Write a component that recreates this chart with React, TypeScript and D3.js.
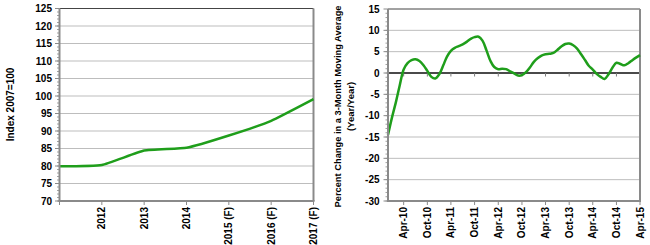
import React from "react";
import * as d3 from "d3";

// Left chart data
const years = ["2011", "2012", "2013", "2014", "2015", "2016", "2017"];
const yearLabels = ["", "2012", "2013", "2014", "2015 (F)", "2016 (F)", "2017 (F)"];
const indexValues = [79.9, 80.3, 84.4, 85.2, 88.7, 92.9, 99.1];
const leftTicks = [70, 75, 80, 85, 90, 95, 100, 105, 110, 115, 120, 125];

// Right chart data: monthly, Dec-2009 .. Apr-2015
const startMonth = new Date(2009, 11, 1);
const pctChange = [
  -14.5, -10.4, -6.7, -3.0, 0.8, 2.3, 3.0, 3.2, 2.8, 1.8, 0.5, -0.9, -1.3,
  -0.3, 1.8, 3.8, 5.2, 5.9, 6.3, 6.7, 7.3, 8.0, 8.4, 8.5, 7.6,
  5.3, 2.8, 1.4, 0.9, 1.0, 0.9, 0.4, -0.1, -0.6, -0.5, 0.2, 1.3,
  2.6, 3.5, 4.1, 4.4, 4.5, 4.7, 5.4, 6.2, 6.8, 6.9, 6.5, 5.7,
  4.4, 3.0, 1.7, 0.8, -0.2, -0.9, -1.4, -0.3, 1.3, 2.4, 2.1, 1.8,
  2.3, 3.0, 3.6, 4.2,
];
const rightTicks = [-30, -25, -20, -15, -10, -5, 0, 5, 10, 15];
const monthTicks = [
  "2010-04", "2010-10", "2011-04", "2011-10", "2012-04", "2012-10",
  "2013-04", "2013-10", "2014-04", "2014-10", "2015-04",
];

const FONT = "'Liberation Sans', Arial, sans-serif";
const GREEN = "#1f9e1b";
const GRID = "#bdbdbd";
const AXIS = "#8a8a8a";

function LeftChart() {
  const x = d3.scalePoint<string>().domain(years).range([59.5, 313.5]);
  const y = d3.scaleLinear().domain([70, 125]).range([201, 8.5]);
  const line = d3
    .line<number>()
    .x((_, i) => x(years[i]) as number)
    .y((d) => y(d))
    .curve(d3.curveCardinal.tension(0.6));
  const minor = d3.range(70, 125, 1);
  return (
    <g>
      {leftTicks.map((t) => (
        <line key={t} x1={59.5} x2={313.5} y1={y(t)} y2={y(t)} stroke={t === 125 ? "#444" : GRID} strokeWidth={1} />
      ))}
      <line x1={313.5} x2={313.5} y1={y(125)} y2={y(70)} stroke={AXIS} strokeWidth={2} />
      <path d={line(indexValues) || ""} fill="none" stroke={GREEN} strokeWidth={2.5} />
      {minor.map((t) => (
        <line key={"m" + t} x1={57} x2={59.5} y1={y(t)} y2={y(t)} stroke={AXIS} strokeWidth={0.8} />
      ))}
      {leftTicks.map((t) => (
        <line key={"t" + t} x1={55} x2={59.5} y1={y(t)} y2={y(t)} stroke={AXIS} strokeWidth={1} />
      ))}
      <line x1={59.5} x2={59.5} y1={y(125)} y2={y(70) + 1} stroke={AXIS} strokeWidth={2} />
      <line x1={58.5} x2={314.5} y1={y(70)} y2={y(70)} stroke={AXIS} strokeWidth={2} />
      {years.map((c) => (
        <line key={"xt" + c} x1={x(c)} x2={x(c)} y1={y(70)} y2={y(70) + 4} stroke={AXIS} strokeWidth={1} />
      ))}
      {leftTicks.map((t) => (
        <text key={"l" + t} x={52} y={y(t)} dy="0.35em" textAnchor="end" fontSize={10} fontWeight="bold" fontFamily={FONT} fill="#000">
          {t}
        </text>
      ))}
      {years.map((c, i) => (
        <text
          key={"xl" + c}
          transform={`translate(${(x(c) as number) + 3.5},207) rotate(-90)`}
          textAnchor="end"
          fontSize={10}
          fontWeight="bold"
          fontFamily={FONT}
          fill="#000"
        >
          {yearLabels[i]}
        </text>
      ))}
      <text transform="translate(13.5,104.5) rotate(-90)" textAnchor="middle" fontSize={10} fontWeight="bold" fontFamily={FONT} fill="#000">
        Index 2007=100
      </text>
    </g>
  );
}

function RightChart() {
  const endMonth = d3.timeMonth.offset(startMonth, pctChange.length - 1);
  const x = d3.scaleTime().domain([startMonth, endMonth]).range([388, 640]);
  const y = d3.scaleLinear().domain([-30, 15]).range([201, 9]);
  const dates = pctChange.map((_, i) => d3.timeMonth.offset(startMonth, i));
  const line = d3
    .line<number>()
    .x((_, i) => x(dates[i]))
    .y((d) => y(d))
    .curve(d3.curveCatmullRom.alpha(0.5));
  const parse = d3.timeParse("%Y-%m");
  const fmt = d3.timeFormat("%b-%y");
  const tickDates = monthTicks.map((s) => parse(s) as Date);
  const minor = d3.range(-30, 15, 1);
  return (
    <g>
      {rightTicks.map((t) => (
        <line key={t} x1={388} x2={640} y1={y(t)} y2={y(t)} stroke={t === 15 ? "#444" : GRID} strokeWidth={1} />
      ))}
      <line x1={388} x2={640} y1={y(0)} y2={y(0)} stroke="#4a4a4a" strokeWidth={2} />
      {tickDates.map((d, i) => (
        <line key={"zt" + i} x1={x(d)} x2={x(d)} y1={y(0)} y2={y(0) + 3.5} stroke="#7a7a7a" strokeWidth={1} />
      ))}
      <line x1={640} x2={640} y1={y(15)} y2={y(-30)} stroke={AXIS} strokeWidth={2} />
      <path d={line(pctChange) || ""} fill="none" stroke={GREEN} strokeWidth={2.5} />
      {minor.map((t) => (
        <line key={"m" + t} x1={385.5} x2={388} y1={y(t)} y2={y(t)} stroke={AXIS} strokeWidth={0.8} />
      ))}
      {rightTicks.map((t) => (
        <line key={"t" + t} x1={383.5} x2={388} y1={y(t)} y2={y(t)} stroke={AXIS} strokeWidth={1} />
      ))}
      <line x1={388} x2={388} y1={y(15)} y2={y(-30) + 1} stroke={AXIS} strokeWidth={2} />
      <line x1={387} x2={641} y1={y(-30)} y2={y(-30)} stroke={AXIS} strokeWidth={2} />
      {tickDates.map((d, i) => (
        <line key={"xt" + i} x1={x(d)} x2={x(d)} y1={y(-30)} y2={y(-30) + 4} stroke={AXIS} strokeWidth={1} />
      ))}
      {rightTicks.map((t) => (
        <text key={"l" + t} x={379.5} y={y(t)} dy="0.35em" textAnchor="end" fontSize={10} fontWeight="bold" fontFamily={FONT} fill="#000">
          {t}
        </text>
      ))}
      {tickDates.map((d, i) => (
        <text
          key={"xl" + i}
          transform={`translate(${x(d) + 3.5},207) rotate(-90)`}
          textAnchor="end"
          fontSize={10}
          fontWeight="bold"
          fontFamily={FONT}
          fill="#000"
        >
          {fmt(d)}
        </text>
      ))}
      <text
        transform="translate(341,106.5) rotate(-90)"
        textAnchor="middle"
        fontSize={9.5}
        fontWeight="bold"
        fontFamily={FONT}
        fill="#000"
        textLength={202}
        lengthAdjust="spacingAndGlyphs"
      >
        Percent Change in a 3-Month Moving Average
      </text>
      <text transform="translate(353.5,106.5) rotate(-90)" textAnchor="middle" fontSize={9.5} fontWeight="bold" fontFamily={FONT} fill="#000">
        (Year/Year)
      </text>
    </g>
  );
}

export default function App() {
  return (
    <svg
      width={650}
      height={245}
      style={{ position: "absolute", left: 0, top: 0, background: "#fff" }}
    >
      <rect width={650} height={245} fill="#fff" />
      <LeftChart />
      <RightChart />
    </svg>
  );
}
